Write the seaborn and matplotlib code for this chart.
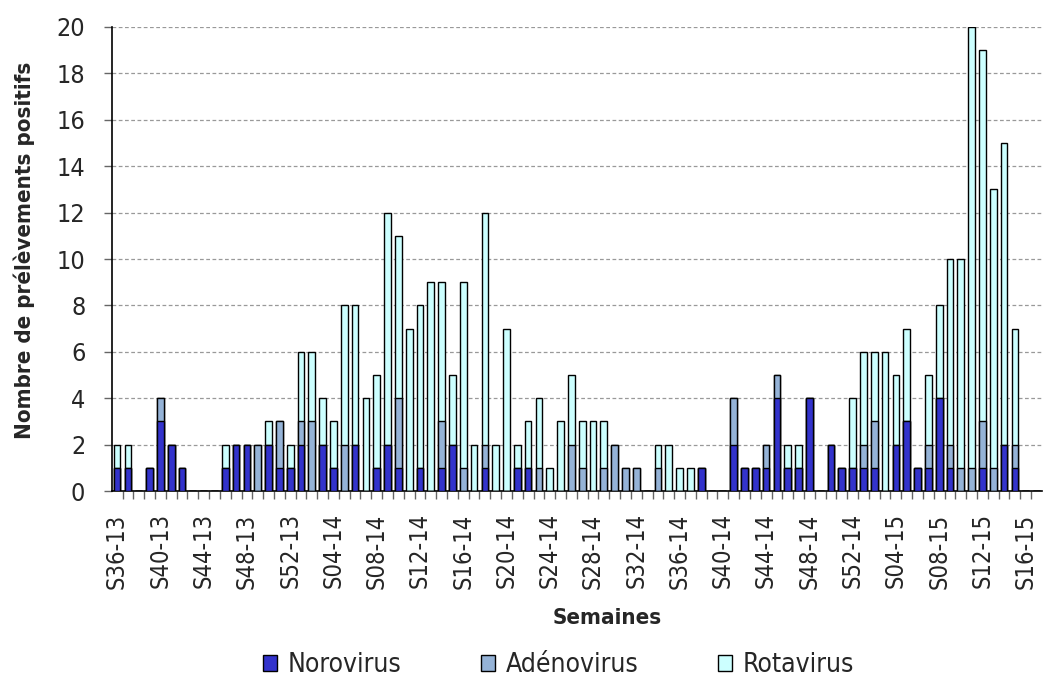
import matplotlib
matplotlib.use("Agg")
import matplotlib.pyplot as plt
import numpy as np
import pandas as pd
import seaborn as sns
from matplotlib.patches import Patch

# Weekly categories: S36-13 .. S17-15
weeks = (
    [f"S{w:02d}-13" for w in range(36, 53)]
    + [f"S{w:02d}-14" for w in range(1, 53)]
    + [f"S{w:02d}-15" for w in range(1, 18)]
)

norovirus = [
    1, 1, 0, 1, 3, 2, 1, 0, 0, 0,
    1, 2, 2, 0, 2, 1, 1, 2, 0, 2,
    1, 0, 2, 0, 1, 2, 1, 0, 1, 0,
    1, 2, 0, 0, 1, 0, 0, 1, 1, 0,
    0, 0, 0, 0, 0, 0, 0, 0, 0, 0,
    0, 0, 0, 0, 1, 0, 0, 2, 1, 1,
    1, 4, 1, 1, 4, 0, 2, 1, 1, 1,
    1, 0, 2, 3, 1, 1, 4, 1, 0, 0,
    1, 0, 2, 1, 0, 0,
]
adenovirus = [
    0, 0, 0, 0, 1, 0, 0, 0, 0, 0,
    0, 0, 0, 2, 0, 2, 0, 1, 3, 0,
    0, 2, 0, 0, 0, 0, 3, 0, 0, 0,
    2, 0, 1, 0, 1, 0, 0, 0, 0, 1,
    0, 0, 2, 1, 0, 1, 2, 1, 1, 0,
    1, 0, 0, 0, 0, 0, 0, 2, 0, 0,
    1, 1, 0, 0, 0, 0, 0, 0, 0, 1,
    2, 0, 0, 0, 0, 1, 0, 1, 1, 1,
    2, 1, 0, 1, 0, 0,
]
rotavirus = [
    1, 1, 0, 0, 0, 0, 0, 0, 0, 0,
    1, 0, 0, 0, 1, 0, 1, 3, 3, 2,
    2, 6, 6, 4, 4, 10, 7, 7, 7, 9,
    6, 3, 8, 2, 10, 2, 7, 1, 2, 3,
    1, 3, 3, 2, 3, 2, 0, 0, 0, 0,
    1, 2, 1, 1, 0, 0, 0, 0, 0, 0,
    0, 0, 1, 1, 0, 0, 0, 0, 3, 4,
    3, 6, 3, 4, 0, 3, 4, 8, 9, 19,
    16, 12, 13, 5, 0, 0,
]

series_names = ["Norovirus", "Adénovirus", "Rotavirus"]
colors = ["#3333CC", "#95B3D7", "#CCFFFF"]

df = pd.DataFrame({
    "semaine": weeks,
    "Norovirus": norovirus,
    "Adénovirus": adenovirus,
    "Rotavirus": rotavirus,
})
# cumulative heights for the stack (drawn back to front)
df["cum_noro"] = df["Norovirus"]
df["cum_adeno"] = df["cum_noro"] + df["Adénovirus"]
df["cum_rota"] = df["cum_adeno"] + df["Rotavirus"]

sns.set_theme(style="white")
plt.rcParams["font.family"] = ["DejaVu Sans"]
plt.rcParams["font.stretch"] = "condensed"

fig = plt.figure(figsize=(10.44, 6.83), dpi=100)
ax = fig.add_axes([0.107, 0.281, 0.891, 0.6795])

for col, color in zip(["cum_rota", "cum_adeno", "cum_noro"], colors[::-1]):
    sns.barplot(
        data=df, x="semaine", y=col, order=weeks, color=color,
        width=0.62, saturation=1, edgecolor="black", linewidth=1,
        ax=ax, zorder=3,
    )

ax.set_ylim(0, 20)
ax.set_xlim(-0.5, len(weeks) - 0.5)
ax.set_yticks(np.arange(0, 21, 2))
ax.yaxis.grid(True, linestyle=(0, (3, 2)), color="#999999", linewidth=0.9, zorder=0)
ax.set_axisbelow(True)

# labels every 4 weeks, tick marks between every category
xpos = np.arange(len(weeks))
ax.set_xticks(xpos[::4])
ax.set_xticklabels([weeks[i] for i in xpos[::4]], rotation=90, fontsize=17)
ax.set_xticks(xpos[:-1] + 0.5, minor=True)
ax.tick_params(axis="x", which="major", length=0, pad=16)
ax.tick_params(axis="x", which="minor", length=6, width=1, color="#666666", bottom=True)
ax.tick_params(axis="y", which="major", length=6, width=1, color="#666666",
               labelsize=18, left=True, pad=13)

for side in ["top", "right"]:
    ax.spines[side].set_visible(False)
for side in ["left", "bottom"]:
    ax.spines[side].set_color("black")
    ax.spines[side].set_linewidth(1.2)

ax.set_xlabel("Semaines", fontsize=16, fontweight="bold")
ax.xaxis.set_label_coords(0.533, -0.252)
ax.set_ylabel("Nombre de prélèvements positifs", fontsize=16, fontweight="bold")
ax.yaxis.set_label_coords(-0.083, 0.519)

handles = [Patch(facecolor=c, edgecolor="black", linewidth=1) for c in colors]
fig.legend(
    handles, series_names, loc="center", bbox_to_anchor=(0.535, 1 - 665 / 683),
    ncol=3, frameon=False, fontsize=19, handlelength=0.55, handleheight=0.55,
    columnspacing=3.0, handletextpad=0.4, borderpad=0,
)

fig.savefig("out.png", dpi=100)
